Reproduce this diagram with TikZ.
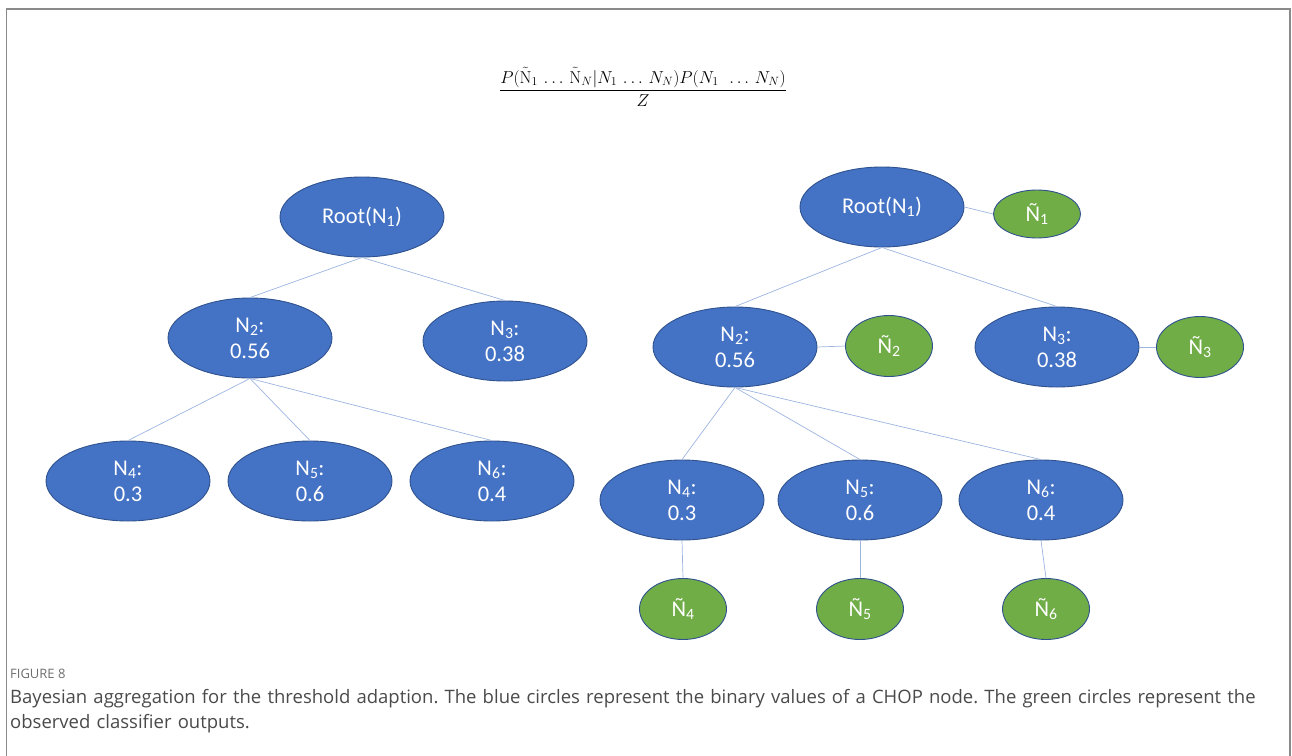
\documentclass[tikz,border=0pt]{standalone}
\usepackage[no-math]{fontspec}
\setmainfont{Open Sans}
\newfontfamily\calib{Carlito}
\usetikzlibrary{shapes.geometric}
\definecolor{blu}{HTML}{4472C4}
\definecolor{edg}{HTML}{2F528F}
\definecolor{grn}{HTML}{70AD47}
\definecolor{lnk}{HTML}{9DB4E0}
\definecolor{frm}{HTML}{8A8A8A}
\definecolor{cap}{HTML}{4A4A4A}
\tikzset{
  bnode/.style={ellipse, draw=edg, line width=0.9pt, fill=blu, text=white, minimum width=164pt, minimum height=80pt, inner sep=0pt, align=center, font=\calib\fontsize{22.5}{26}\selectfont},
  gnode/.style={ellipse, draw=edg, line width=0.9pt, fill=grn, text=white, minimum width=87pt, minimum height=61pt, inner sep=0pt, font=\calib\fontsize{22.5}{26}\selectfont},
  lk/.style={draw=lnk, line width=0.7pt}
}
\begin{document}
\begin{tikzpicture}[x=1pt,y=-1pt]
\useasboundingbox (0,0) rectangle (1292,755);
\draw[frm, line width=1.6pt] (6.5,760) -- (6.5,9) -- (1290,9) -- (1290,760);
% formula
\node (f) at (643,87) {\fontsize{18.5}{22}\selectfont$\displaystyle\frac{P(\tilde{\mathrm{N}}_1\,\ldots\,\tilde{\mathrm{N}}_N|N_1\,\ldots\,N_N)P(N_1\ \,\ldots\,N_N)}{Z}$};
% left tree
\node[bnode] (lr) at (362,217) {Root(N\textsubscript{1})};
\node[bnode] (l2) at (250,338) {N\textsubscript{2}:\\0.56};
\node[bnode] (l3) at (505,341) {N\textsubscript{3}:\\0.38};
\node[bnode] (l4) at (128,481) {N\textsubscript{4}:\\0.3};
\node[bnode] (l5) at (310,481) {N\textsubscript{5}:\\0.6};
\node[bnode] (l6) at (492,481) {N\textsubscript{6}:\\0.4};
\draw[lk] (lr.south) -- (l2.north);
\draw[lk] (lr.south) -- (l3.north);
\draw[lk] (l2.south) -- (l4.north);
\draw[lk] (l2.south) -- (l5.north);
\draw[lk] (l2.south) -- (l6.north);
% right tree
\node[bnode] (rr) at (882,207) {Root(N\textsubscript{1})};
\node[bnode] (r2) at (735,347) {N\textsubscript{2}:\\0.56};
\node[bnode] (r3) at (1057,347) {N\textsubscript{3}:\\0.38};
\node[bnode] (r4) at (682,500) {N\textsubscript{4}:\\0.3};
\node[bnode] (r5) at (860,500) {N\textsubscript{5}:\\0.6};
\node[bnode] (r6) at (1041,500) {N\textsubscript{6}:\\0.4};
\node[gnode, minimum height=48pt] (t1) at (1037,214) {Ñ\textsubscript{1}};
\node[gnode] (t2) at (889,346) {Ñ\textsubscript{2}};
\node[gnode] (t3) at (1200,347) {Ñ\textsubscript{3}};
\node[gnode] (t4) at (683,609) {Ñ\textsubscript{4}};
\node[gnode] (t5) at (860,609) {Ñ\textsubscript{5}};
\node[gnode] (t6) at (1046,609) {Ñ\textsubscript{6}};
\draw[lk] (rr.south) -- (r2.north);
\draw[lk] (rr.south) -- (r3.north);
\draw[lk] (r2.south) -- (r4.north);
\draw[lk] (r2.south) -- (r5.north);
\draw[lk] (r2.south) -- (r6.north);
\draw[lk] (rr.east) -- (t1.west);
\draw[lk] (r2.east) -- (t2.west);
\draw[lk] (r3.east) -- (t3.west);
\draw[lk] (r4.south) -- (t4.north);
\draw[lk] (r5.south) -- (t5.north);
\draw[lk] (r6.south) -- (t6.north);
% caption
\node[anchor=west, inner sep=0pt, text=frm!80!black, font=\fontsize{13}{15}\selectfont] (c0) at (10,674) {FIGURE 8};
\node[anchor=north west, inner sep=0pt, text=cap, align=left, text width=1258pt, font=\fontsize{18.5}{25}\selectfont] (c1) at (10,689) {\frenchspacing\hyphenpenalty=10000\relax Bayesian aggregation for the threshold adaption. The blue circles represent the binary values of a CHOP node. The green circles represent the observed classifier outputs.\par};
\end{tikzpicture}
\end{document}
